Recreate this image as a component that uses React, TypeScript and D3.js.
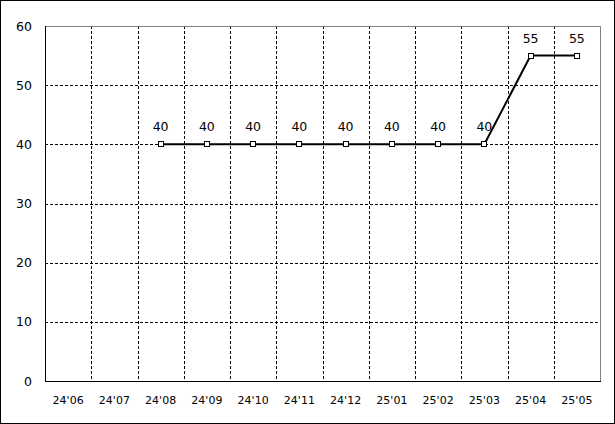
import React from "react";
import * as d3 from "d3";

const categories = ["24'06", "24'07", "24'08", "24'09", "24'10", "24'11", "24'12", "25'01", "25'02", "25'03", "25'04", "25'05"];
const values: (number | null)[] = [null, null, 40, 40, 40, 40, 40, 40, 40, 40, 55, 55];
const yTicks = [0, 10, 20, 30, 40, 50, 60];

const W = 615, H = 424;
const left = 45, right = 600, top = 26, bottom = 381;

export default function App() {
  const x = d3.scaleBand<string>().domain(categories).range([left, right]).padding(0);
  const y = d3.scaleLinear().domain([0, 60]).range([bottom, top]);
  const cx = (c: string) => (x(c) as number) + x.bandwidth() / 2;
  const pts = categories.map((c, i) => ({ c, v: values[i] })).filter(d => d.v !== null) as { c: string; v: number }[];
  const line = d3.line<{ c: string; v: number }>().x(d => cx(d.c)).y(d => y(d.v));
  const font = "'DejaVu Sans', sans-serif";
  return (
    <svg width={W} height={H} style={{ position: "absolute", left: 0, top: 0, background: "#fff" }}>
      <rect x={0.5} y={0.5} width={W - 1} height={H - 1} fill="#fff" stroke="#000" />
      {/* horizontal grid */}
      {yTicks.filter(t => t > 0 && t < 60).map(t => (
        <line key={"h" + t} x1={left} x2={right} y1={Math.round(y(t)) + 0.5} y2={Math.round(y(t)) + 0.5} stroke="#000" strokeDasharray="3,2" />
      ))}
      {/* vertical grid */}
      {categories.slice(1).map(c => (
        <line key={"v" + c} x1={Math.round(x(c) as number) + 0.5} x2={Math.round(x(c) as number) + 0.5} y1={top} y2={bottom} stroke="#000" strokeDasharray="3,2" />
      ))}
      {/* top & right border */}
      <line x1={left} x2={right + 0.5} y1={top + 0.5} y2={top + 0.5} stroke="#808080" />
      <line x1={right + 0.5} x2={right + 0.5} y1={top} y2={bottom} stroke="#808080" />
      {/* axes */}
      <line x1={left + 0.5} x2={left + 0.5} y1={top} y2={bottom + 0.5} stroke="#000" />
      <line x1={left} x2={right + 1} y1={bottom + 0.5} y2={bottom + 0.5} stroke="#000" />
      {/* y labels */}
      {yTicks.map(t => (
        <text key={"yl" + t} x={32} y={y(t)} dy="0.36em" textAnchor="end" fontFamily={font} fontSize={12.5} fill="#000">{t}</text>
      ))}
      {/* x labels */}
      {categories.map(c => (
        <text key={"xl" + c} x={cx(c)} y={400} dy="0.36em" textAnchor="middle" fontFamily={font} fontSize={11} fill="#000">{c}</text>
      ))}
      <path d={line(pts) || ""} fill="none" stroke="#000" strokeWidth={2} />
      {pts.map(d => (
        <rect key={"m" + d.c} x={Math.round(cx(d.c)) - 2.5} y={Math.round(y(d.v)) - 2.5} width={5} height={5} fill="#fff" stroke="#000" strokeWidth={1} />
      ))}
      {pts.map(d => (
        <text key={"dl" + d.c} x={cx(d.c)} y={y(d.v) - 13} textAnchor="middle" fontFamily={font} fontSize={12.5} fill="#000">{d.v}</text>
      ))}
    </svg>
  );
}
